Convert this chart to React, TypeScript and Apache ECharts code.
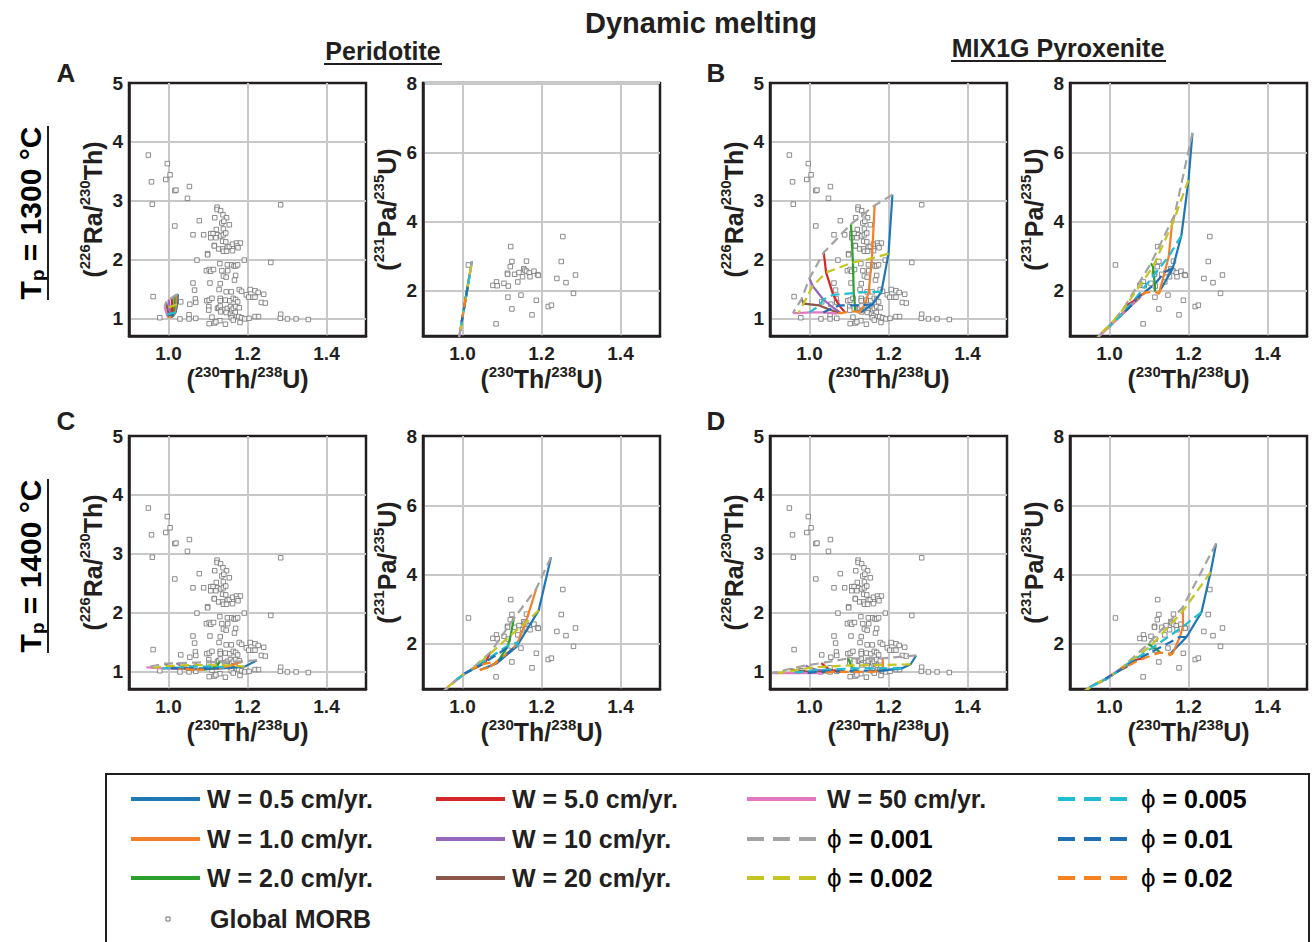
import React, { useEffect, useRef } from 'react';
import * as echarts from 'echarts';

const FF = '"Liberation Sans", Arial, Helvetica, sans-serif';
const INK = '#231f20';
const GRID_GRAY = '#c8c8c8';

const W_NAMES = ['W = 0.5 cm/yr.', 'W = 1.0 cm/yr.', 'W = 2.0 cm/yr.', 'W = 5.0 cm/yr.', 'W = 10 cm/yr.', 'W = 20 cm/yr.', 'W = 50 cm/yr.'];
const W_COLORS = ['#1f77b4', '#f47f2a', '#2ca02c', '#d62728', '#9467bd', '#8c564b', '#e377c2'];
const PHI_VALUES = ['0.001', '0.002', '0.005', '0.01', '0.02'];
const PHI_COLORS = ['#a3a3a3', '#c4c423', '#20bcd0', '#1f6fb4', '#f58220'];

// tick labels
const X_TICKS = [1.0, 1.2, 1.4];
const RA_TICKS = [1, 2, 3, 4, 5];
const PA_TICKS = [2, 4, 6, 8];

// Global MORB: [(230Th/238U), (226Ra/230Th)]
const morbRa = [
  [0.949, 3.775], [0.997, 3.63], [0.957, 3.32], [0.993, 3.36], [1.004, 3.44], [1.016, 3.17], [1.019, 3.18],
  [1.053, 3.24], [1.048, 3.04], [0.959, 2.94], [1.284, 2.93], [1.016, 2.57], [1.078, 2.66], [1.062, 2.42],
  [1.089, 2.42], [1.123, 2.89], [1.123, 2.85], [1.132, 2.83], [1.117, 2.71], [1.138, 2.76], [1.147, 2.71],
  [1.135, 2.62], [1.14, 2.65], [1.154, 2.59], [1.121, 2.51], [1.139, 2.52], [1.107, 2.44], [1.113, 2.44],
  [1.124, 2.42], [1.12, 2.37], [1.107, 2.37], [1.132, 2.4], [1.139, 2.42], [1.145, 2.45], [1.137, 2.31],
  [1.145, 2.3], [1.116, 2.24], [1.116, 2.23], [1.127, 2.18], [1.137, 2.18], [1.149, 2.21], [1.154, 2.22],
  [1.162, 2.26], [1.172, 2.28], [1.182, 2.28], [1.173, 2.23], [1.176, 2.2], [1.139, 2.14], [1.147, 2.14],
  [1.162, 2.15], [1.099, 2.1], [1.099, 2.08], [1.072, 1.99], [1.192, 1.99], [1.259, 1.95], [1.13, 1.93],
  [1.149, 1.91], [1.16, 1.91], [1.166, 1.89], [1.17, 1.89], [1.175, 1.91], [1.096, 1.81], [1.103, 1.83],
  [1.107, 1.8], [1.114, 1.83], [1.135, 1.81], [1.15, 1.81], [1.139, 1.72], [1.146, 1.7], [1.17, 1.73],
  [1.167, 1.65], [1.062, 1.6], [1.105, 1.6], [1.131, 1.59], [1.066, 1.48], [1.128, 1.49], [1.146, 1.45],
  [1.159, 1.45], [1.179, 1.49], [1.185, 1.46], [1.207, 1.49], [1.219, 1.47], [1.227, 1.44], [1.241, 1.41],
  [1.197, 1.4], [1.203, 1.36], [1.214, 1.36], [1.219, 1.36], [0.961, 1.37], [1.031, 1.28], [1.054, 1.24],
  [1.068, 1.33], [1.069, 1.27], [1.097, 1.3], [1.103, 1.31], [1.11, 1.34], [1.131, 1.34], [1.131, 1.3],
  [1.144, 1.31], [1.155, 1.3], [1.164, 1.34], [1.17, 1.32], [1.175, 1.28], [1.235, 1.27], [1.245, 1.26],
  [1.102, 1.2], [1.102, 1.14], [1.124, 1.17], [1.127, 1.18], [1.131, 1.21], [1.135, 1.14], [1.142, 1.15],
  [1.149, 1.17], [1.157, 1.2], [1.16, 1.14], [1.164, 1.17], [1.17, 1.2], [1.179, 1.18], [1.132, 1.11],
  [1.146, 1.1], [1.157, 1.07], [1.169, 1.1], [1.162, 1.04], [1.159, 1.01], [1.052, 1.06], [1.052, 0.99],
  [0.978, 1.01], [1.029, 0.99], [1.069, 1.0], [1.11, 1.02], [1.13, 0.96], [1.103, 0.91], [1.116, 0.92],
  [1.12, 0.94], [1.144, 0.9], [1.164, 0.97], [1.181, 0.93], [1.178, 1.03], [1.185, 1.01], [1.193, 0.99],
  [1.204, 1.0], [1.219, 1.03], [1.228, 1.03], [1.284, 1.07], [1.283, 1.0], [1.301, 0.99], [1.323, 0.99],
  [1.354, 0.98],
];

// Global MORB: [(230Th/238U), (231Pa/235U)]
const morbPa = [
  [1.015, 2.75], [1.122, 3.28], [1.254, 3.57], [1.125, 2.85], [1.162, 2.86], [1.25, 2.85], [1.121, 2.7],
  [1.114, 2.51], [1.114, 2.48], [1.132, 2.48], [1.143, 2.53], [1.155, 2.64], [1.158, 2.6], [1.162, 2.57],
  [1.169, 2.52], [1.181, 2.57], [1.171, 2.41], [1.152, 2.41], [1.19, 2.47], [1.192, 2.45], [1.239, 2.36],
  [1.262, 2.24], [1.286, 2.46], [1.14, 2.26], [1.086, 2.26], [1.077, 2.16], [1.105, 2.22], [1.116, 2.14],
  [1.088, 2.15], [1.281, 1.93], [1.115, 1.82], [1.148, 1.88], [1.187, 1.73], [1.217, 1.55], [1.225, 1.59],
  [1.125, 1.48], [1.176, 1.31], [1.085, 1.05],
];

// Model meshes: rows = W (0.5, 1, 2, 5, 10, 20, 50 cm/yr), columns = phi (0.001, 0.002, 0.005, 0.01, 0.02)
// A: Peridotite, Tp = 1300 C
const aThU = [
  [1.024, 1.022, 1.018, 1.013, 1.008],
  [1.020, 1.019, 1.016, 1.012, 1.007],
  [1.015, 1.015, 1.013, 1.010, 1.006],
  [1.008, 1.009, 1.009, 1.007, 1.004],
  [1.000, 1.003, 1.005, 1.004, 1.002],
  [0.994, 0.997, 1.000, 1.001, 1.001],
  [0.990, 0.993, 0.996, 0.998, 1.000],
];
const aRaTh = [
  [1.41, 1.24, 1.10, 1.05, 1.02],
  [1.40, 1.23, 1.10, 1.05, 1.02],
  [1.38, 1.22, 1.09, 1.05, 1.02],
  [1.35, 1.21, 1.09, 1.04, 1.02],
  [1.32, 1.19, 1.08, 1.04, 1.02],
  [1.28, 1.17, 1.07, 1.04, 1.02],
  [1.20, 1.13, 1.06, 1.03, 1.02],
];
const aPaU = [
  [2.86, 2.73, 2.46, 2.12, 1.78],
  [2.59, 2.52, 2.32, 2.05, 1.71],
  [2.25, 2.25, 2.12, 1.92, 1.65],
  [1.78, 1.85, 1.85, 1.71, 1.51],
  [1.24, 1.44, 1.58, 1.51, 1.38],
  [0.84, 1.04, 1.24, 1.31, 1.31],
  [0.57, 0.77, 0.97, 1.11, 1.24],
];
// B: MIX1G Pyroxenite, Tp = 1300 C
const bThU = [
  [1.210, 1.200, 1.182, 1.160, 1.130],
  [1.165, 1.158, 1.150, 1.140, 1.125],
  [1.105, 1.110, 1.112, 1.115, 1.115],
  [1.036, 1.042, 1.060, 1.075, 1.090],
  [1.000, 1.008, 1.035, 1.060, 1.080],
  [0.980, 0.985, 1.025, 1.050, 1.075],
  [0.958, 0.972, 1.000, 1.035, 1.070],
];
const bRaTh = [
  [3.10, 2.10, 1.45, 1.24, 1.10],
  [2.92, 2.02, 1.45, 1.23, 1.10],
  [2.60, 1.95, 1.43, 1.22, 1.12],
  [2.12, 1.78, 1.40, 1.22, 1.10],
  [1.68, 1.55, 1.32, 1.18, 1.09],
  [1.33, 1.25, 1.22, 1.15, 1.09],
  [1.09, 1.09, 1.10, 1.10, 1.08],
];
const bPaU = [
  [6.56, 5.20, 3.60, 2.65, 2.05],
  [4.20, 3.90, 3.00, 2.55, 1.92],
  [2.80, 2.70, 2.45, 2.20, 1.98],
  [1.50, 1.58, 1.70, 1.85, 1.95],
  [1.00, 1.10, 1.38, 1.63, 1.85],
  [0.78, 0.84, 1.25, 1.52, 1.80],
  [0.53, 0.67, 0.97, 1.36, 1.74],
];
// C: Peridotite, Tp = 1400 C
const cThU = [
  [1.224, 1.193, 1.136, 1.086, 1.044],
  [1.187, 1.160, 1.140, 1.128, 1.070],
  [1.130, 1.122, 1.115, 1.111, 1.090],
  [1.070, 1.068, 1.062, 1.058, 1.052],
  [1.020, 1.030, 1.040, 1.048, 1.050],
  [0.990, 1.000, 1.018, 1.035, 1.045],
  [0.944, 0.962, 0.985, 1.005, 1.025],
];
const cRaTh = [
  [1.19, 1.08, 1.05, 1.04, 1.03],
  [1.17, 1.10, 1.07, 1.05, 1.03],
  [1.16, 1.10, 1.08, 1.05, 1.03],
  [1.15, 1.11, 1.08, 1.05, 1.03],
  [1.14, 1.10, 1.07, 1.05, 1.04],
  [1.13, 1.09, 1.06, 1.05, 1.04],
  [1.07, 1.06, 1.05, 1.05, 1.04],
];
const cPaU = [
  [4.50, 2.97, 1.91, 1.44, 1.25],
  [3.60, 2.62, 2.05, 1.87, 1.34],
  [2.73, 2.25, 1.95, 1.87, 1.50],
  [1.75, 1.70, 1.55, 1.48, 1.42],
  [1.25, 1.32, 1.38, 1.40, 1.40],
  [1.00, 1.10, 1.22, 1.32, 1.38],
  [0.55, 0.75, 0.98, 1.15, 1.28],
];
// D: MIX1G Pyroxenite, Tp = 1400 C
const dThU = [
  [1.270, 1.256, 1.233, 1.195, 1.150],
  [1.185, 1.186, 1.186, 1.178, 1.160],
  [1.098, 1.105, 1.110, 1.120, 1.128],
  [1.030, 1.040, 1.050, 1.070, 1.090],
  [0.990, 1.000, 1.020, 1.040, 1.060],
  [0.950, 0.965, 0.990, 1.020, 1.045],
  [0.906, 0.920, 0.950, 0.990, 1.030],
];
const dRaTh = [
  [1.27, 1.12, 1.05, 1.02, 1.00],
  [1.22, 1.11, 1.05, 1.01, 0.99],
  [1.22, 1.10, 1.05, 1.01, 0.99],
  [1.14, 1.08, 1.03, 1.00, 0.99],
  [1.10, 1.06, 1.02, 1.00, 0.99],
  [1.04, 1.02, 1.00, 0.99, 0.98],
  [0.97, 0.97, 0.97, 0.97, 0.97],
];
const dPaU = [
  [4.90, 4.07, 2.92, 2.20, 1.67],
  [3.05, 2.95, 2.50, 2.20, 1.72],
  [2.00, 1.95, 1.90, 1.85, 1.75],
  [1.30, 1.38, 1.45, 1.55, 1.60],
  [0.96, 1.05, 1.20, 1.35, 1.45],
  [0.75, 0.85, 0.98, 1.20, 1.35],
  [0.40, 0.50, 0.75, 1.00, 1.30],
];

const PANELS = [
  { x: aThU, y: aRaTh, kind: 'ra' },
  { x: aThU, y: aPaU, kind: 'pa' },
  { x: bThU, y: bRaTh, kind: 'ra' },
  { x: bThU, y: bPaU, kind: 'pa' },
  { x: cThU, y: cRaTh, kind: 'ra' },
  { x: cThU, y: cPaU, kind: 'pa' },
  { x: dThU, y: dRaTh, kind: 'ra' },
  { x: dThU, y: dPaU, kind: 'pa' },
];

const COL_LEFT = [129, 423, 770, 1070];
const ROW_TOP = [83, 436];
const GRID_W = 237;
const GRID_H = 253;

const near = (v: number, list: number[]) => list.some((t) => Math.abs(v - t) < 1e-6);

const nameRich = {
  m: { fontSize: 25, fontWeight: 'bold', fontFamily: FF, color: INK, lineHeight: 28, verticalAlign: 'bottom' },
  s: { fontSize: 15, fontWeight: 'bold', fontFamily: FF, color: INK, lineHeight: 14, verticalAlign: 'top' },
};

function buildSplitColors(count: number, grayIndex: number) {
  const arr: string[] = [];
  for (let i = 0; i < count; i++) arr.push(i === grayIndex ? GRID_GRAY : 'rgba(0,0,0,0)');
  return arr;
}

function buildOption() {
  const grids: any[] = [];
  const xAxes: any[] = [];
  const yAxes: any[] = [];
  const series: any[] = [];

  PANELS.forEach((p, i) => {
    const row = Math.floor(i / 4);
    const col = i % 4;
    grids.push({
      left: COL_LEFT[col], top: ROW_TOP[row], width: GRID_W, height: GRID_H,
      show: true, borderColor: INK, borderWidth: 2.5, backgroundColor: '#fff',
    });
    xAxes.push({
      type: 'value', gridIndex: i, min: 0.9, max: 1.5, interval: 0.1,
      axisLine: { show: true, onZero: false, lineStyle: { color: INK, width: 2.5 } },
      axisTick: { show: false },
      splitLine: { show: true, lineStyle: { color: ['rgba(0,0,0,0)', GRID_GRAY], width: 2 } },
      axisLabel: {
        margin: 8, fontSize: 19, fontWeight: 'bold', fontFamily: FF, color: INK,
        formatter: (v: number) => (near(v, X_TICKS) ? v.toFixed(1) : ''),
      },
      name: '{m|(}{s|230}{m|Th/}{s|238}{m|U)}', nameLocation: 'middle', nameGap: 25,
      nameTextStyle: { rich: nameRich },
    });
    const isRa = p.kind === 'ra';
    yAxes.push({
      type: 'value', gridIndex: i, min: 0.7, max: isRa ? 5 : 8, interval: 0.1,
      axisLine: { show: true, onZero: false, lineStyle: { color: INK, width: 2.5 } },
      axisTick: { show: false },
      splitLine: {
        show: true, showMaxLine: i === 1,
        lineStyle: { color: isRa ? buildSplitColors(10, 3) : buildSplitColors(20, 13), width: 2 },
      },
      axisLabel: {
        margin: 6, fontSize: 19, fontWeight: 'bold', fontFamily: FF, color: INK,
        formatter: (v: number) => (near(v, isRa ? RA_TICKS : PA_TICKS) ? String(Math.round(v)) : ''),
      },
      name: isRa ? '{m|(}{s|226}{m|Ra/}{s|230}{m|Th)}' : '{m|(}{s|231}{m|Pa/}{s|235}{m|U)}',
      nameLocation: 'middle', nameGap: 24,
      nameTextStyle: { rich: nameRich },
    });
    series.push({
      type: 'scatter', name: 'Global MORB', xAxisIndex: i, yAxisIndex: i,
      data: isRa ? morbRa : morbPa, symbol: 'rect', symbolSize: 4.5, silent: true, z: 2,
      itemStyle: { color: '#fff', borderColor: '#707070', borderWidth: 1 },
    });
    W_NAMES.forEach((name, w) => {
      series.push({
        type: 'line', name, xAxisIndex: i, yAxisIndex: i, symbol: 'none', silent: true, z: 3,
        data: p.x[w].map((xv, j) => [xv, p.y[w][j]]),
        lineStyle: { color: W_COLORS[w], width: 2.2 },
      });
    });
    PHI_VALUES.forEach((phi, j) => {
      series.push({
        type: 'line', name: 'ϕ = ' + phi, xAxisIndex: i, yAxisIndex: i, symbol: 'none', silent: true, z: 4,
        data: p.x.map((rowX, w) => [rowX[j], p.y[w][j]]),
        lineStyle: { color: PHI_COLORS[j], width: 2.2, type: [9, 5] },
      });
    });
  });

  const graphic: any[] = [];
  const txt = (text: string, x: number, y: number, size: number, align = 'center') => ({
    type: 'text', x, y, silent: true,
    style: {
      text, fill: INK, font: `bold ${size}px ${FF}`, align, verticalAlign: 'middle',
      textAlign: align, textVerticalAlign: 'middle',
    },
  });
  graphic.push(txt('Dynamic melting', 701, 23, 29));
  graphic.push(txt('Peridotite', 383, 51, 25));
  graphic.push({ type: 'line', silent: true, shape: { x1: 324, y1: 64, x2: 442, y2: 64 }, style: { stroke: INK, lineWidth: 2 } });
  graphic.push(txt('MIX1G Pyroxenite', 1058, 48, 25));
  graphic.push({ type: 'line', silent: true, shape: { x1: 951, y1: 61, x2: 1166, y2: 61 }, style: { stroke: INK, lineWidth: 2 } });
  graphic.push(txt('A', 66, 73, 26));
  graphic.push(txt('B', 716, 73, 26));
  graphic.push(txt('C', 66, 421, 26));
  graphic.push(txt('D', 716, 421, 26));

  const tpRich = {
    t: { fontSize: 30, fontWeight: 'bold', fontFamily: FF, color: INK, lineHeight: 34, verticalAlign: 'middle' },
    s: { fontSize: 19, fontWeight: 'bold', fontFamily: FF, color: INK, lineHeight: 18, verticalAlign: 'bottom' },
  };
  [['1300', 213], ['1400', 566]].forEach(([temp, cy]) => {
    graphic.push({
      type: 'group', x: 30, y: cy as number, rotation: Math.PI / 2, silent: true,
      children: [
        { type: 'text', style: { text: `{t|T}{s|p}{t| = ${temp} °C}`, rich: tpRich, align: 'center', verticalAlign: 'middle', textAlign: 'center', textVerticalAlign: 'middle' } },
        { type: 'line', shape: { x1: -87, y1: 18, x2: 87, y2: 18 }, style: { stroke: INK, lineWidth: 2 } },
      ],
    });
  });

  // Legend box
  graphic.push({ type: 'rect', silent: true, shape: { x: 106, y: 774, width: 1203, height: 200 }, style: { fill: 'none', stroke: INK, lineWidth: 2 } });
  const LEG_LINE_X = [131, 436, 747, 1058];
  const LEG_TEXT_X = [207, 512, 827, 1141];
  const LEG_ROW_Y = [799, 839, 878, 919];
  const legendCols: Array<Array<[string, number]>> = [
    [['w', 0], ['w', 1], ['w', 2], ['m', 0]],
    [['w', 3], ['w', 4], ['w', 5]],
    [['w', 6], ['p', 0], ['p', 1]],
    [['p', 2], ['p', 3], ['p', 4]],
  ];
  const phiRich = {
    p: { fontSize: 26, fontWeight: 'normal', fontFamily: FF, color: INK },
    t: { fontSize: 25, fontWeight: 'bold', fontFamily: FF, color: INK },
  };
  legendCols.forEach((items, c) => {
    items.forEach(([kind, idx], r) => {
      const y = LEG_ROW_Y[r];
      if (kind === 'm') {
        graphic.push({ type: 'rect', silent: true, shape: { x: LEG_LINE_X[c] + 35, y: y - 2, width: 4, height: 4 }, style: { fill: '#fff', stroke: '#707070', lineWidth: 1 } });
        graphic.push(txt('Global MORB', LEG_TEXT_X[c] + 3, y, 25, 'left'));
        return;
      }
      const dashed = kind === 'p';
      graphic.push({
        type: 'line', silent: true,
        shape: { x1: LEG_LINE_X[c], y1: y, x2: LEG_LINE_X[c] + 69, y2: y },
        style: { stroke: dashed ? PHI_COLORS[idx] : W_COLORS[idx], lineWidth: 4, lineDash: dashed ? [17, 9] : null },
      });
      if (dashed) {
        graphic.push({
          type: 'text', x: LEG_TEXT_X[c], y, silent: true,
          style: { text: `{p|ϕ}{t| = ${PHI_VALUES[idx]}}`, rich: phiRich, align: 'left', verticalAlign: 'middle', textAlign: 'left', textVerticalAlign: 'middle' },
        });
      } else {
        graphic.push(txt(W_NAMES[idx], LEG_TEXT_X[c], y, 25, 'left'));
      }
    });
  });

  return {
    animation: false,
    backgroundColor: '#fff',
    grid: grids,
    xAxis: xAxes,
    yAxis: yAxes,
    series,
    graphic,
  };
}

export default function App() {
  const ref = useRef<HTMLDivElement>(null);
  useEffect(() => {
    if (!ref.current) return;
    const chart = echarts.init(ref.current, null, { renderer: 'svg' });
    chart.setOption(buildOption() as any);
    return () => chart.dispose();
  }, []);
  return (
    <div
      ref={ref}
      style={{ position: 'absolute', left: 0, top: 0, width: 1312, height: 942, background: '#fff' }}
    />
  );
}
